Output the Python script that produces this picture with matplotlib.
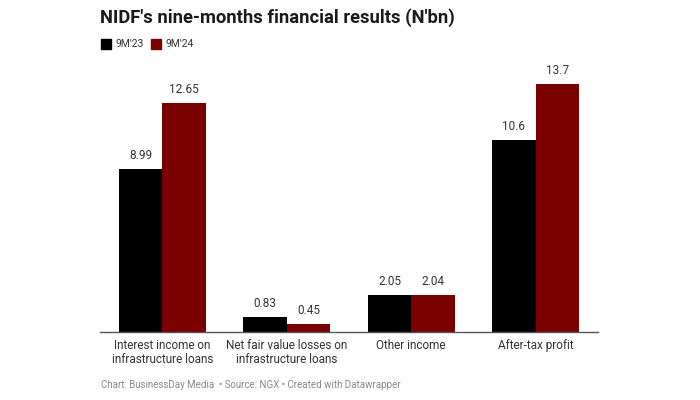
import matplotlib.pyplot as plt
from matplotlib.patches import Rectangle
import numpy as np

plt.rcParams['font.family'] = ['Roboto', 'DejaVu Sans']

categories = ["Interest income on\ninfrastructure loans",
              "Net fair value losses on\ninfrastructure loans",
              "Other income",
              "After-tax profit"]
series_names = ["9M'23", "9M'24"]
values_23 = [8.99, 0.83, 2.05, 10.6]
values_24 = [12.65, 0.45, 2.04, 13.7]
labels_23 = ["8.99", "0.83", "2.05", "10.6"]
labels_24 = ["12.65", "0.45", "2.04", "13.7"]
colors = ["#000000", "#7b0000"]

W, H = 700, 400
fig = plt.figure(figsize=(7, 4), dpi=100)
ax = fig.add_axes([100 / W, 1 - 332 / H, 498 / W, 272 / H])

x = np.arange(len(categories))
bw = 0.35
b1 = ax.bar(x - bw / 2, values_23, bw, color=colors[0])
b2 = ax.bar(x + bw / 2, values_24, bw, color=colors[1])

for bars, labs in ((b1, labels_23), (b2, labels_24)):
    for r, lab in zip(bars, labs):
        ax.annotate(lab, (r.get_x() + r.get_width() / 2, r.get_height()),
                    xytext=(0, 5), textcoords="offset points",
                    ha="center", va="bottom", fontsize=8.5, color="#333333")

ax.set_xlim(-0.5, 3.5)
ax.set_ylim(0, 15.03)
ax.set_yticks([])
ax.set_xticks(x)
ax.set_xticklabels(categories, fontsize=8.5, color="#333333", linespacing=1.15)
ax.tick_params(axis="x", length=0, pad=5)
for s in ("top", "right", "left"):
    ax.spines[s].set_visible(False)
ax.spines["bottom"].set_color("#555555")
ax.spines["bottom"].set_linewidth(1)

fig.text(100 / W, 1 - 18 / H, "NIDF's nine-months financial results (N'bn)",
         fontsize=13.2, fontweight="bold", color="#1a1a1a", va="center")

# legend
lx = 101
for name, c in zip(series_names, colors):
    fig.patches.append(Rectangle((lx / W, 1 - 49 / H), 10 / W, 10 / H,
                                 transform=fig.transFigure, color=c))
    fig.text((lx + 14) / W, 1 - 44 / H, name, fontsize=7.5, color="#333333", va="center")
    lx += 50

fig.text(101 / W, 1 - 385 / H,
         "Chart: BusinessDay Media  \u2022 Source: NGX \u2022 Created with Datawrapper",
         fontsize=7, color="#888888", va="center")

fig.savefig("out.png", dpi=100)
